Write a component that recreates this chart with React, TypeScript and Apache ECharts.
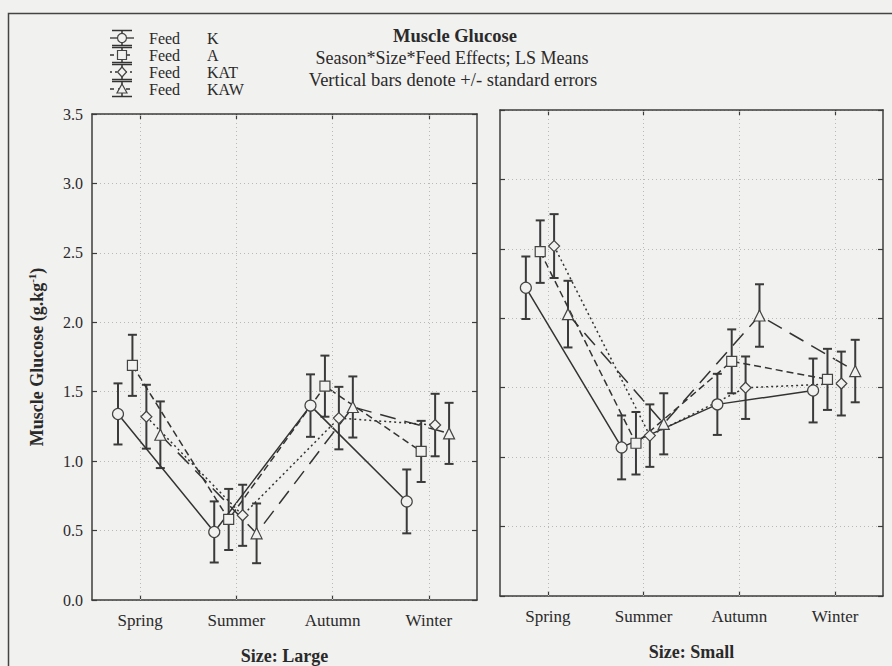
import React, { useEffect, useRef } from 'react';
import * as echarts from 'echarts';

// Categories
const seasons = ['Spring', 'Summer', 'Autumn', 'Winter'];
const feeds = ['K', 'A', 'KAT', 'KAW'];
const sizeLabels = ['Size: Large', 'Size: Small'];

// LS means of muscle glucose (g.kg-1), size: large
const largeMeansK = [1.34, 0.49, 1.40, 0.71];
const largeMeansA = [1.69, 0.58, 1.54, 1.07];
const largeMeansKAT = [1.32, 0.61, 1.31, 1.26];
const largeMeansKAW = [1.19, 0.48, 1.39, 1.20];

// standard errors, size: large
const largeSeK = [0.22, 0.22, 0.225, 0.23];
const largeSeA = [0.22, 0.22, 0.22, 0.22];
const largeSeKAT = [0.23, 0.22, 0.225, 0.225];
const largeSeKAW = [0.24, 0.215, 0.22, 0.22];

// LS means of muscle glucose (g.kg-1), size: small
const smallMeansK = [2.22, 1.07, 1.38, 1.48];
const smallMeansA = [2.48, 1.10, 1.69, 1.56];
const smallMeansKAT = [2.52, 1.155, 1.50, 1.53];
const smallMeansKAW = [2.03, 1.24, 2.02, 1.62];

// standard errors, size: small
const smallSeK = [0.225, 0.23, 0.22, 0.23];
const smallSeA = [0.225, 0.225, 0.23, 0.22];
const smallSeKAT = [0.23, 0.225, 0.225, 0.23];
const smallSeKAW = [0.24, 0.22, 0.225, 0.225];

// y-axis range and step
const yMin = 0;
const yMax = 3.5;
const yStep = 0.5;

const FONT = '"Liberation Serif", "DejaVu Serif", serif';
const INK = '#2a2a2a';
const PAPER = '#f1f1ef';

const meansBySize = [
  [largeMeansK, largeMeansA, largeMeansKAT, largeMeansKAW],
  [smallMeansK, smallMeansA, smallMeansKAT, smallMeansKAW],
];
const seBySize = [
  [largeSeK, largeSeA, largeSeKAT, largeSeKAW],
  [smallSeK, smallSeA, smallSeKAT, smallSeKAW],
];

// per-feed drawing style: marker, dash pattern and horizontal dodge within a season
const feedStyle = [
  { symbol: 'circle', size: 11, dash: 'solid' as any, dodge: -0.23 },
  { symbol: 'rect', size: 10, dash: [7, 4], dodge: -0.08 },
  { symbol: 'diamond', size: 11, dash: [2, 3], dodge: 0.065 },
  { symbol: 'triangle', size: 11, dash: [16, 9], dodge: 0.21 },
];

const grids = [
  { left: 92, top: 114, width: 385, height: 486 },
  { left: 500, top: 110, width: 383, height: 486 },
];

function markerGraphic(kind: string, cx: number, cy: number) {
  const style = { fill: PAPER, stroke: '#444', lineWidth: 1.2 };
  if (kind === 'circle') return { type: 'circle', shape: { cx, cy, r: 4.5 }, style };
  if (kind === 'rect') return { type: 'rect', shape: { x: cx - 4.5, y: cy - 4.5, width: 9, height: 9 }, style };
  if (kind === 'diamond')
    return { type: 'polygon', shape: { points: [[cx, cy - 5], [cx + 4.5, cy], [cx, cy + 5], [cx - 4.5, cy]] }, style };
  return { type: 'polygon', shape: { points: [[cx, cy - 5], [cx + 5, cy + 4], [cx - 5, cy + 4]] }, style };
}

function buildOption() {
  const xAxis: any[] = [];
  const yAxis: any[] = [];
  const series: any[] = [];

  grids.forEach((_, g) => {
    const axisLine = { show: true, onZero: false, lineStyle: { color: '#3c3c3c', width: 1.5 } };
    const tick = { show: true, inside: true, length: 5, lineStyle: { color: '#3c3c3c', width: 1.2 } };
    xAxis.push({
      type: 'category', gridIndex: g, position: 'bottom', data: seasons, boundaryGap: true,
      axisLine, axisTick: { ...tick, alignWithLabel: true },
      axisLabel: { color: INK, fontFamily: FONT, fontSize: 17, margin: 12 },
      name: sizeLabels[g], nameLocation: 'middle', nameGap: 47,
      nameTextStyle: { color: INK, fontFamily: FONT, fontSize: 18, fontWeight: 'bold' },
      splitLine: { show: false },
    });
    xAxis.push({
      type: 'category', gridIndex: g, position: 'top', data: seasons, boundaryGap: true,
      axisLine, axisTick: { ...tick, alignWithLabel: true }, axisLabel: { show: false }, splitLine: { show: false },
    });
    xAxis.push({ type: 'value', gridIndex: g, min: -0.5, max: 3.5, show: false });

    yAxis.push({
      type: 'value', gridIndex: g, position: 'left', min: yMin, max: yMax, interval: yStep,
      axisLine, axisTick: tick,
      axisLabel: {
        show: g === 0, color: INK, fontFamily: FONT, fontSize: 16, margin: 9,
        formatter: (v: number) => v.toFixed(1),
      },
      splitLine: { show: true, lineStyle: { color: '#b9b9b9', type: [1, 3], width: 1 } },
      ...(g === 0
        ? {
            name: '{t|Muscle Glucose (g.kg}{s|-1}{t|)}', nameLocation: 'middle', nameGap: 44, nameRotate: 90,
            nameTextStyle: {
              rich: {
                t: { color: INK, fontFamily: FONT, fontSize: 18, fontWeight: 'bold', lineHeight: 22 },
                s: { color: INK, fontFamily: FONT, fontSize: 11, fontWeight: 'bold', verticalAlign: 'top', lineHeight: 12 },
              },
            },
          }
        : {}),
    });
    yAxis.push({
      type: 'value', gridIndex: g, position: 'right', min: yMin, max: yMax, interval: yStep,
      axisLine, axisTick: tick, axisLabel: { show: false }, splitLine: { show: false },
    });

    const xIdx = g * 3 + 2;
    const yIdx = g * 2;

    feeds.forEach((feed, f) => {
      const st = feedStyle[f];
      const means = meansBySize[g][f];
      const ses = seBySize[g][f];
      series.push({
        type: 'custom', name: feed + ' SE', xAxisIndex: xIdx, yAxisIndex: yIdx, z: 2, silent: true,
        data: means.map((m, j) => [j + st.dodge, m - ses[j], m + ses[j]]),
        encode: { x: 0, y: [1, 2] },
        renderItem: (_p: any, api: any) => {
          const x = api.value(0);
          const lo = api.coord([x, api.value(1)]);
          const hi = api.coord([x, api.value(2)]);
          const cap = 4.5;
          const style = { stroke: '#3a3a3a', lineWidth: 2 };
          return {
            type: 'group',
            children: [
              { type: 'line', shape: { x1: lo[0], y1: lo[1], x2: hi[0], y2: hi[1] }, style },
              { type: 'line', shape: { x1: lo[0] - cap, y1: lo[1], x2: lo[0] + cap, y2: lo[1] }, style },
              { type: 'line', shape: { x1: hi[0] - cap, y1: hi[1], x2: hi[0] + cap, y2: hi[1] }, style },
            ],
          };
        },
      });
      const lineSeries: any = {
        type: 'line', name: feed, xAxisIndex: xIdx, yAxisIndex: yIdx, z: 3,
        data: means.map((m, j) => [j + st.dodge, m]),
        symbol: st.symbol, symbolSize: st.size, showSymbol: true,
        itemStyle: { color: PAPER, borderColor: '#444', borderWidth: 1.2 },
        lineStyle: { color: '#333', width: 1.5, type: st.dash },
      };
      if (f === 0) {
        // dotted vertical grid lines at each season
        lineSeries.markLine = {
          silent: true, symbol: 'none', label: { show: false },
          lineStyle: { color: '#b9b9b9', type: [1, 3], width: 1 },
          data: seasons.map((_, j) => ({ xAxis: j })),
        };
      }
      series.push(lineSeries);
    });
  });

  // legend: error-bar glyph with marker, then "Feed" and the feed name
  const legendRows = [38, 55, 72, 89];
  const legendChildren: any[] = [];
  feeds.forEach((feed, f) => {
    const y = legendRows[f];
    const cx = 122;
    const st = feedStyle[f];
    const s = { stroke: '#333', lineWidth: 1.5 };
    const label = { fill: INK, font: `16px ${FONT}`, verticalAlign: 'middle', lineHeight: 15 };
    legendChildren.push(
      { type: 'line', shape: { x1: cx - 10, y1: y - 7.5, x2: cx + 10, y2: y - 7.5 }, style: s },
      { type: 'line', shape: { x1: cx - 10, y1: y + 7.5, x2: cx + 10, y2: y + 7.5 }, style: s },
      { type: 'line', shape: { x1: cx, y1: y - 7.5, x2: cx, y2: y + 7.5 }, style: s },
      {
        type: 'line', shape: { x1: cx - 12, y1: y, x2: cx + 12, y2: y },
        style: { stroke: '#333', lineWidth: 1.3, lineDash: st.dash === 'solid' ? null : (st.dash as number[]).map((d) => Math.min(d, 4)) },
      },
      markerGraphic(st.symbol, cx, y),
      { type: 'text', x: 149, y, style: { text: 'Feed', ...label } },
      { type: 'text', x: 207, y, style: { text: feed, ...label } },
    );
  });

  return {
    animation: false,
    backgroundColor: PAPER,
    grid: grids.map((g) => ({ ...g, containLabel: false, outerBoundsMode: 'none' })),
    xAxis,
    yAxis,
    series,
    graphic: [
      {
        type: 'rect', silent: true, z: 0,
        shape: { x: 8.5, y: 13.5, width: 1000, height: 1000 },
        style: { fill: 'none', stroke: '#444', lineWidth: 1.5 },
      },
      { type: 'group', children: legendChildren },
      {
        type: 'text', x: 455, y: 36,
        style: { text: 'Muscle Glucose', fill: INK, font: `bold 18.5px ${FONT}`, align: 'center', verticalAlign: 'middle' },
      },
      {
        type: 'text', x: 452, y: 58,
        style: { text: 'Season*Size*Feed Effects; LS Means', fill: INK, font: `18px ${FONT}`, align: 'center', verticalAlign: 'middle' },
      },
      {
        type: 'text', x: 453, y: 80,
        style: { text: 'Vertical bars denote +/- standard errors', fill: INK, font: `18.5px ${FONT}`, align: 'center', verticalAlign: 'middle' },
      },
    ],
  };
}

export default function App() {
  const ref = useRef<HTMLDivElement>(null);
  useEffect(() => {
    if (!ref.current) return;
    const chart = echarts.init(ref.current, undefined, { renderer: 'svg' });
    chart.setOption(buildOption() as any);
    return () => chart.dispose();
  }, []);
  return <div ref={ref} style={{ position: 'fixed', left: 0, top: 0, width: 892, height: 666 }} />;
}
